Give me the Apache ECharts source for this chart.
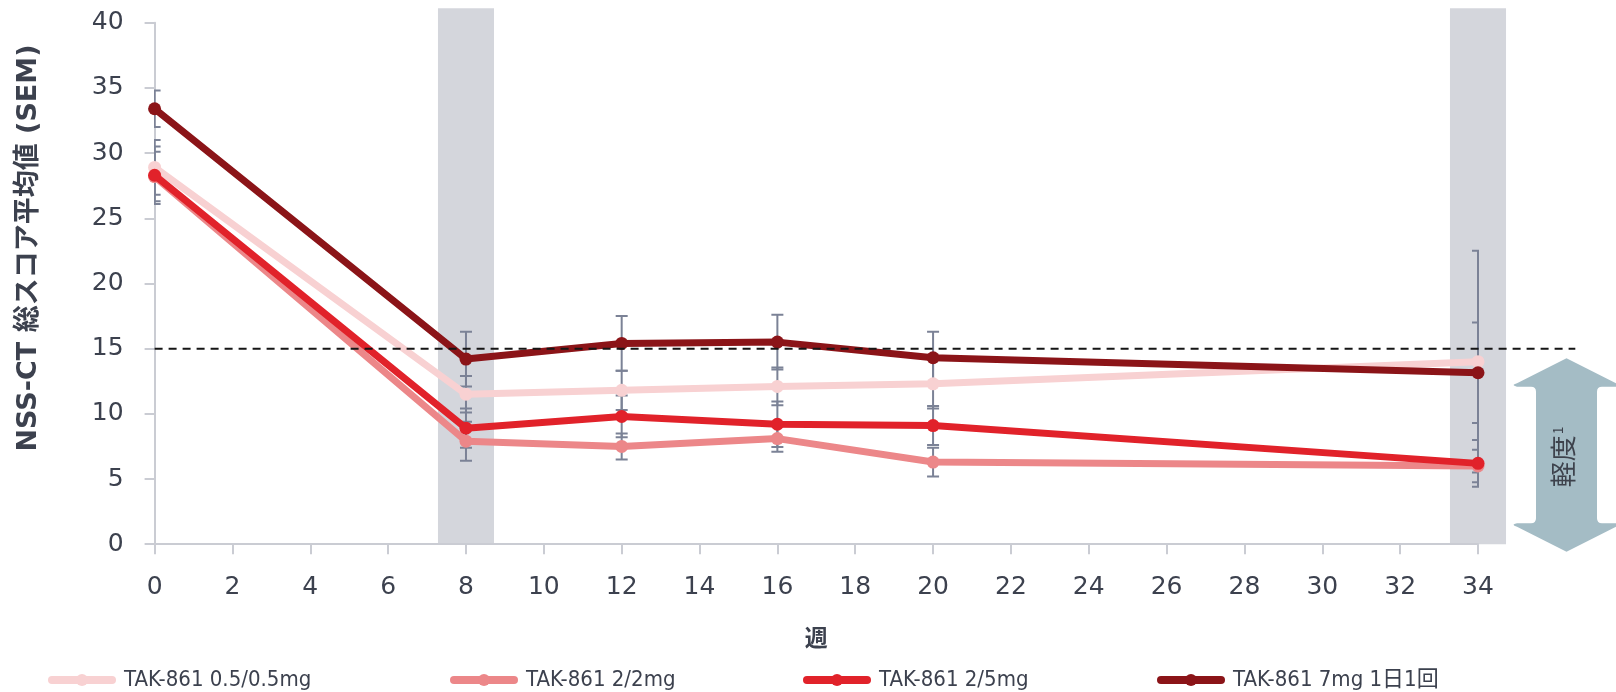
<!DOCTYPE html>
<html>
<head>
<meta charset="utf-8">
<script src="https://cdn.jsdelivr.net/npm/echarts@6/dist/echarts.min.js"></script>
<style>
  html, body { margin: 0; padding: 0; background: #ffffff; }
  #chart { width: 1616px; height: 692px; }
</style>
</head>
<body>
<div id="chart"></div>
<script>
// Study visits (weeks) and mean NSS-CT total score per dose group, with SEM
const weeks = [0, 8, 12, 16, 20, 34];
const seriesNames = ['TAK-861 0.5/0.5mg', 'TAK-861 2/2mg', 'TAK-861 2/5mg', 'TAK-861 7mg 1日1回'];
const dose05 = [28.9, 11.5, 11.8, 12.1, 12.3, 14.0];
const dose05Sem = [2.1, 1.4, 1.5, 1.45, 1.9, 8.5];
const dose22 = [28.2, 7.9, 7.5, 8.1, 6.3, 6.0];
const dose22Sem = [1.9, 1.5, 1.0, 1.0, 1.1, 1.25];
const dose25 = [28.3, 8.9, 9.8, 9.2, 9.1, 6.2];
const dose25Sem = [2.2, 1.5, 1.6, 1.75, 1.5, 1.8];
const dose7 = [33.4, 14.2, 15.4, 15.5, 14.3, 13.15];
const dose7Sem = [1.4, 2.1, 2.1, 2.1, 2.0, 3.85];
const threshold = 15;          // dashed reference line
const thresholdEnd = 36.5;     // the reference line runs past the last visit
const shadedWeeks = [8, 34];   // highlighted visits
const mildRange = [0, 14];     // span of the "mild" arrow
const yTicks = { min: 0, max: 40, interval: 5 };
const xTicks = { min: 0, max: 34, interval: 2 };

const colors = ['#f8d1d2', '#ec8789', '#e1222a', '#8b1418'];
const values = [dose05, dose22, dose25, dose7];
const sems = [dose05Sem, dose22Sem, dose25Sem, dose7Sem];

const textColor = '#3c414e';
const axisColor = '#caccd3';
const latin = "'DejaVu Sans', 'Noto Sans CJK JP', sans-serif";
const condensed = "'DejaVu Sans Condensed', 'DejaVu Sans', 'Noto Sans CJK JP', sans-serif";
const cjk = "'Noto Sans CJK JP', 'DejaVu Sans', sans-serif";

const chart = echarts.init(document.getElementById('chart'), null, { renderer: 'canvas' });

function errorBarItem(params, api) {
  const x = api.value(0), lo = api.value(1), hi = api.value(2);
  const top = api.coord([x, hi]);
  const bot = api.coord([x, lo]);
  const hw = 6;
  const style = { stroke: '#7b8296', lineWidth: 2, fill: null };
  return {
    type: 'group',
    children: [
      { type: 'line', shape: { x1: top[0], y1: top[1], x2: bot[0], y2: bot[1] }, style },
      { type: 'line', shape: { x1: top[0] - hw, y1: top[1], x2: top[0] + hw, y2: top[1] }, style },
      { type: 'line', shape: { x1: bot[0] - hw, y1: bot[1], x2: bot[0] + hw, y2: bot[1] }, style }
    ]
  };
}

function bandItem(params, api) {
  const w = api.value(0);
  const left = api.coord([w - 0.72, 0])[0];
  const right = api.coord([w + 0.72, 0])[0];
  const bottom = api.coord([w, 0])[1];
  const top = params.coordSys.y - 14.5;
  return {
    type: 'rect',
    shape: { x: left, y: top, width: right - left, height: bottom - top },
    style: { fill: '#d4d6dc' }
  };
}

function thresholdItem(params, api) {
  const a = api.coord([0, api.value(0)]);
  const b = api.coord([api.value(1), api.value(0)]);
  return {
    type: 'line',
    shape: { x1: a[0], y1: a[1], x2: b[0], y2: b[1] },
    style: { stroke: '#151515', lineWidth: 2, lineDash: [8, 6], fill: null }
  };
}

function arrowItem(params, api) {
  const yTop = api.coord([0, api.value(1)])[1] - 3.5;
  const yBot = api.coord([0, api.value(0)])[1] + 7.5;
  const cx = params.coordSys.x + params.coordSys.width + 88.5;
  const hw = 54.5, sw = 30.5, hl = 27, r = 5;
  const a = yTop + hl, b = yBot - hl;
  const d = [
    'M', cx, yTop,
    'L', cx - hw + r, a - 2,
    'Q', cx - hw - 2, a, cx - hw + r, a + 1.5,
    'L', cx - sw - r, a + 1.5,
    'Q', cx - sw, a + 1.5, cx - sw, a + 1.5 + r,
    'L', cx - sw, b - 1.5 - r,
    'Q', cx - sw, b - 1.5, cx - sw - r, b - 1.5,
    'L', cx - hw + r, b - 1.5,
    'Q', cx - hw - 2, b, cx - hw + r, b + 2,
    'L', cx, yBot,
    'L', cx + hw - r, b + 2,
    'Q', cx + hw + 2, b, cx + hw - r, b - 1.5,
    'L', cx + sw + r, b - 1.5,
    'Q', cx + sw, b - 1.5, cx + sw, b - 1.5 - r,
    'L', cx + sw, a + 1.5 + r,
    'Q', cx + sw, a + 1.5, cx + sw + r, a + 1.5,
    'L', cx + hw - r, a + 1.5,
    'Q', cx + hw + 2, a, cx + hw - r, a - 2,
    'Z'
  ].join(' ');
  return {
    type: 'group',
    children: [
      { type: 'path', shape: { pathData: d }, style: { fill: '#a4bcc5' } },
      {
        type: 'text',
        x: cx - 3, y: (yTop + yBot) / 2 + 2,
        rotation: Math.PI / 2,
        style: {
          text: '{a|軽度}{b|1}',
          align: 'center', verticalAlign: 'middle',
          rich: {
            a: { fontFamily: cjk, fontSize: 26, fill: '#3d424c', color: '#3d424c' },
            b: { fontFamily: cjk, fontSize: 14, fill: '#3d424c', color: '#3d424c', verticalAlign: 'top', padding: [0, 0, 10, 1] }
          }
        }
      }
    ]
  };
}

const lineSeries = seriesNames.map((name, i) => ({
  name,
  type: 'line',
  data: weeks.map((w, k) => [w, values[i][k]]),
  symbol: 'circle',
  symbolSize: 13,
  showSymbol: true,
  lineStyle: { width: 7, color: colors[i] },
  itemStyle: { color: colors[i] },
  emphasis: { disabled: true },
  z: 3 + i,
  animation: false
}));

const errorData = [];
values.forEach((vals, i) => {
  vals.forEach((v, k) => errorData.push([weeks[k], v - sems[i][k], v + sems[i][k]]));
});

const legendLefts = [43, 445, 798, 1152];
const legends = seriesNames.map((name, i) => ({
  data: [name],
  left: legendLefts[i],
  top: 664,
  itemWidth: 60,
  itemHeight: 15,
  selectedMode: false,
  lineStyle: { width: 8, cap: 'round' },
  formatter: n => '{gap|}' + n,
  textStyle: {
    fontFamily: condensed, fontSize: 22, color: textColor,
    rich: { gap: { width: 7 } }
  }
}));

chart.setOption({
  animation: false,
  backgroundColor: '#ffffff',
  grid: { left: 154.6, right: 138, top: 22.7, bottom: 147.8, containLabel: false },
  legend: legends,
  xAxis: {
    type: 'value',
    min: xTicks.min, max: xTicks.max, interval: xTicks.interval,
    name: '週',
    nameLocation: 'middle',
    nameGap: 82,
    nameTextStyle: { fontFamily: cjk, fontWeight: 'bold', fontSize: 23, color: textColor },
    axisLine: { show: true, lineStyle: { color: axisColor, width: 2 } },
    axisTick: { show: true, length: 10, lineStyle: { color: axisColor, width: 2 } },
    axisLabel: { fontFamily: latin, fontSize: 25, color: textColor, margin: 31 },
    splitLine: { show: false }
  },
  yAxis: {
    type: 'value',
    min: yTicks.min, max: yTicks.max, interval: yTicks.interval,
    axisLine: { show: true, lineStyle: { color: axisColor, width: 2 } },
    axisTick: { show: true, length: 10, lineStyle: { color: axisColor, width: 2 } },
    axisLabel: { fontFamily: latin, fontSize: 25, color: textColor, margin: 31 },
    splitLine: { show: false }
  },
  graphic: [{
    type: 'text',
    x: 29, y: 248,
    rotation: Math.PI / 2,
    style: {
      text: 'NSS-CT 総スコア平均値 (SEM)',
      fontFamily: latin, fontWeight: 'bold', fontSize: 27,
      fill: textColor, align: 'center', verticalAlign: 'middle'
    }
  }],
  series: [
    { type: 'custom', name: 'band', renderItem: bandItem, data: shadedWeeks.map(w => [w]), clip: false, z: 0, silent: true },
    { type: 'custom', name: 'sem', renderItem: errorBarItem, data: errorData, clip: true, z: 1, silent: true },
    ...lineSeries,
    { type: 'custom', name: 'ref', renderItem: thresholdItem, data: [[threshold, thresholdEnd]], clip: false, z: 10, silent: true },
    { type: 'custom', name: 'mild', renderItem: arrowItem, data: [mildRange], clip: false, z: 10, silent: true }
  ]
});
</script>
</body>
</html>
